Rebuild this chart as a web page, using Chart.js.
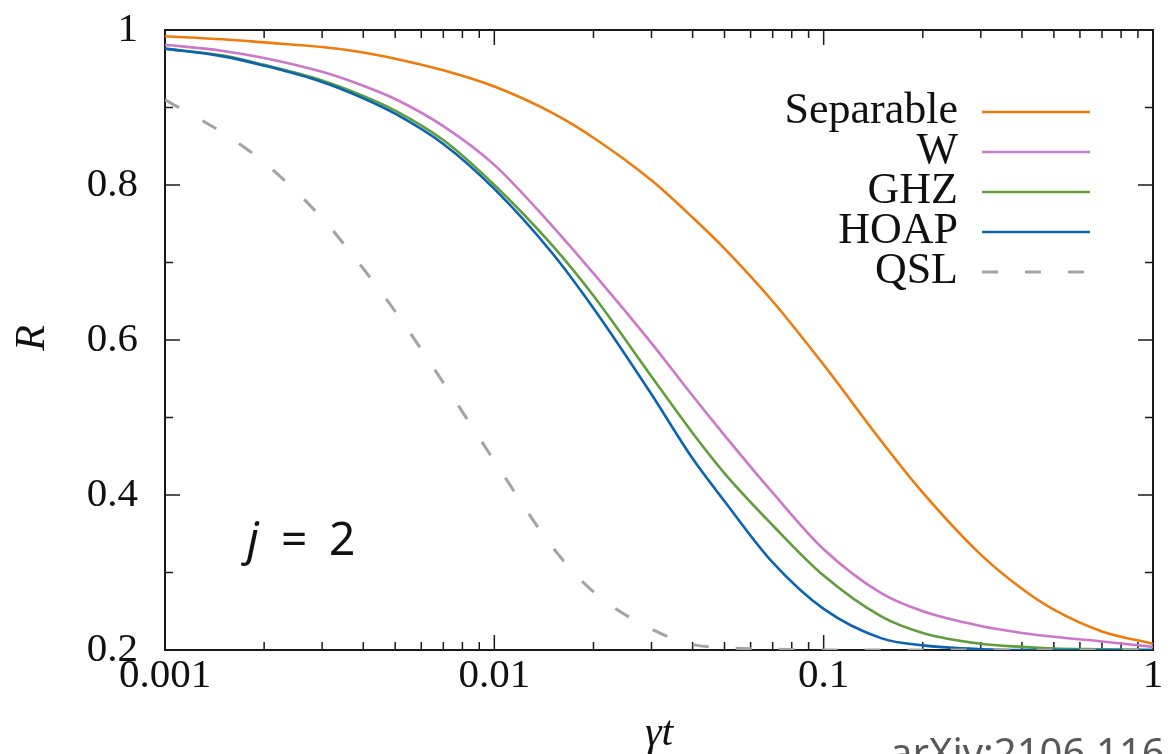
<!DOCTYPE html>
<html lang="en">
<head>
<meta charset="UTF-8">
<title>R versus gamma t, j = 2</title>
<script src="https://cdn.jsdelivr.net/npm/chart.js"></script>
<style>
  body { margin: 0; background: #fff; }
</style>
</head>
<body>
<canvas id="myChart" width="1175" height="754"></canvas>
<script>
// gamma*t sample positions (log axis)
const gammaT = [0.001, 0.0015, 0.002, 0.003, 0.004, 0.005, 0.007, 0.01, 0.015, 0.02, 0.03,
                0.04, 0.05, 0.07, 0.1, 0.15, 0.2, 0.3, 0.4, 0.5, 0.7, 1];

// R values
const separable = [0.992, 0.988, 0.984, 0.978, 0.971, 0.963, 0.948, 0.927, 0.893, 0.861, 0.806,
                   0.758, 0.718, 0.650, 0.568, 0.469, 0.403, 0.323, 0.279, 0.252, 0.224, 0.208];
const wState    = [0.981, 0.973, 0.964, 0.946, 0.928, 0.911, 0.876, 0.826, 0.747, 0.686, 0.596,
                   0.528, 0.477, 0.403, 0.330, 0.273, 0.250, 0.231, 0.222, 0.217, 0.211, 0.204];
const ghz       = [0.976, 0.967, 0.955, 0.935, 0.915, 0.896, 0.858, 0.800, 0.722, 0.657, 0.553,
                   0.480, 0.428, 0.361, 0.296, 0.243, 0.222, 0.208, 0.204, 0.202, 0.201, 0.200];
const hoap      = [0.976, 0.966, 0.954, 0.933, 0.912, 0.892, 0.853, 0.795, 0.712, 0.641, 0.530,
                   0.447, 0.392, 0.313, 0.253, 0.215, 0.206, 0.201, 0.200, 0.200, 0.200, 0.200];
const qsl       = [0.910, 0.867, 0.829, 0.757, 0.692, 0.637, 0.545, 0.444, 0.333, 0.275, 0.227,
                   0.207, 0.203, 0.201, 0.200, 0.200, 0.200, 0.200, 0.200, 0.200, 0.200, 0.200];

// ticks
const xTicks = [0.001, 0.01, 0.1, 1];
const xTickLabels = ['0.001', '0.01', '0.1', '1'];
const xMinorTicks = [0.002, 0.003, 0.004, 0.005, 0.006, 0.007, 0.008, 0.009,
                     0.02, 0.03, 0.04, 0.05, 0.06, 0.07, 0.08, 0.09,
                     0.2, 0.3, 0.4, 0.5, 0.6, 0.7, 0.8, 0.9];
const yTicks = [0.2, 0.4, 0.6, 0.8, 1];
const yTickLabels = ['0.2', '0.4', '0.6', '0.8', '1'];
const yMinorTicks = [0.3, 0.5, 0.7, 0.9];

function pts(values) {
  return gammaT.map((x, i) => ({ x: x, y: values[i] }));
}
function labelFor(list, labels, v) {
  const i = list.findIndex(t => Math.abs(t - v) < 1e-9);
  return i >= 0 ? labels[i] : '';
}

const serif = '"Liberation Serif", "DejaVu Serif", serif';
const sans = '"Noto Sans", "Open Sans", sans-serif';

// box with inward ticks on all four sides, plus legend and labels
const framePlugin = {
  id: 'frame',
  beforeDatasetsDraw(chart) {
    const { ctx, chartArea: { left, right, top, bottom }, scales: { x, y } } = chart;
    ctx.save();
    ctx.strokeStyle = '#1a1a1a';
    ctx.lineWidth = 1.5;
    const tick = (x1, y1, x2, y2) => {
      ctx.beginPath(); ctx.moveTo(x1, y1); ctx.lineTo(x2, y2); ctx.stroke();
    };
    xTicks.forEach(v => {
      const px = x.getPixelForValue(v);
      tick(px, bottom, px, bottom - 15); tick(px, top, px, top + 15);
    });
    xMinorTicks.forEach(v => {
      const px = x.getPixelForValue(v);
      tick(px, bottom, px, bottom - 8); tick(px, top, px, top + 8);
    });
    yTicks.forEach(v => {
      const py = y.getPixelForValue(v);
      tick(left, py, left + 15, py); tick(right, py, right - 15, py);
    });
    yMinorTicks.forEach(v => {
      const py = y.getPixelForValue(v);
      tick(left, py, left + 8, py); tick(right, py, right - 8, py);
    });
    ctx.lineWidth = 2;
    ctx.strokeRect(left, top, right - left, bottom - top);
    ctx.restore();
  },
  afterDraw(chart) {
    const ctx = chart.ctx;
    ctx.save();
    // legend: right aligned names with sample lines after them
    const legendOrder = ['Separable', 'W', 'GHZ', 'HOAP', 'QSL'];
    ctx.font = '44px ' + serif;
    ctx.fillStyle = '#111';
    ctx.textAlign = 'right';
    ctx.textBaseline = 'alphabetic';
    legendOrder.forEach((name, i) => {
      const ds = chart.data.datasets.find(d => d.label === name);
      const ly = 112 + i * 40;
      ctx.fillText(name, 958, ly + 11);
      ctx.beginPath();
      ctx.strokeStyle = ds.borderColor;
      ctx.lineWidth = ds.borderWidth;
      ctx.setLineDash(ds.borderDash || []);
      ctx.moveTo(982, ly);
      ctx.lineTo(1090, ly);
      ctx.stroke();
      ctx.setLineDash([]);
    });

    // axis titles
    ctx.textAlign = 'center';
    ctx.textBaseline = 'middle';
    ctx.font = 'italic 42px ' + serif;
    ctx.save();
    ctx.translate(33, 338);
    ctx.rotate(-Math.PI / 2);
    ctx.fillText('R', 0, 0);
    ctx.restore();
    ctx.textBaseline = 'alphabetic';
    ctx.fillText('\u03B3t', 659, 745);

    // j = 2 annotation
    ctx.textAlign = 'left';
    ctx.font = 'italic 46px ' + sans;
    ctx.fillText('j', 247, 555);
    ctx.font = '46px ' + sans;
    ctx.fillText('=', 281, 555);
    ctx.fillText('2', 329, 555);

    // source note, cut by the bottom edge
    ctx.fillStyle = '#595959';
    ctx.font = '40px ' + sans;
    ctx.fillText('arXiv:2106.116', 890, 767);
    ctx.restore();
  }
};

const ctx = document.getElementById('myChart').getContext('2d');
const myChart = new Chart(ctx, {
  type: 'line',
  data: {
    datasets: [
      { label: 'Separable', data: pts(separable), borderColor: '#ee7b0c', borderWidth: 2.6, order: 4 },
      { label: 'W', data: pts(wState), borderColor: '#cc78c9', borderWidth: 2.6, order: 3 },
      { label: 'GHZ', data: pts(ghz), borderColor: '#5f9e3a', borderWidth: 2.6, order: 2 },
      { label: 'HOAP', data: pts(hoap), borderColor: '#0b63b2', borderWidth: 2.6, order: 1 },
      { label: 'QSL', data: pts(qsl), borderColor: '#a3a3a3', borderWidth: 3, borderDash: [16, 27], order: 0 }
    ]
  },
  options: {
    responsive: false,
    animation: false,
    events: [],
    elements: {
      point: { radius: 0 },
      line: { cubicInterpolationMode: 'monotone', fill: false }
    },
    layout: { padding: { top: 30, right: 22, left: 0, bottom: 0 } },
    plugins: {
      legend: { display: false },
      tooltip: { enabled: false }
    },
    scales: {
      x: {
        type: 'logarithmic',
        min: 0.001,
        max: 1,
        grid: { display: false, drawTicks: false },
        border: { display: false },
        afterBuildTicks: s => { s.ticks = xTicks.map(v => ({ value: v })); },
        afterFit: s => { s.height = 104; s.paddingLeft = 0; s.paddingRight = 0; },
        ticks: {
          autoSkip: false,
          maxRotation: 0,
          padding: 2,
          color: '#111',
          font: { family: serif, size: 41 },
          callback: v => labelFor(xTicks, xTickLabels, v)
        }
      },
      y: {
        type: 'linear',
        min: 0.2,
        max: 1,
        grid: { display: false, drawTicks: false },
        border: { display: false },
        afterBuildTicks: s => { s.ticks = yTicks.map(v => ({ value: v })); },
        afterFit: s => { s.width = 165; s.paddingTop = 0; s.paddingBottom = 0; },
        ticks: {
          padding: 27,
          color: '#111',
          font: { family: serif, size: 41 },
          callback: v => labelFor(yTicks, yTickLabels, v)
        }
      }
    }
  },
  plugins: [framePlugin]
});
</script>
</body>
</html>
